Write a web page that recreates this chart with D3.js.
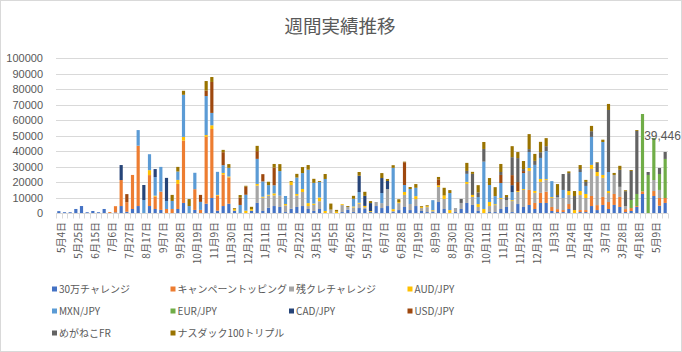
<!DOCTYPE html>
<html>
<head>
<meta charset="utf-8">
<script src="https://cdn.jsdelivr.net/npm/d3@7"></script>
<style>
  body { margin: 0; background: #fff; }
  svg text { fill: #595959; }
</style>
</head>
<body>
<div id="chart"></div>
<script>
// --- Données ---
const dates = [
  "5月4日","5月11日","5月18日","5月25日","6月1日","6月8日","6月15日","6月22日","6月29日","7月6日",
  "7月13日","7月20日","7月27日","8月3日","8月10日","8月17日","8月24日","8月31日","9月7日","9月14日",
  "9月21日","9月28日","10月5日","10月12日","10月19日","10月26日","11月2日","11月9日","11月16日","11月23日",
  "11月30日","12月7日","12月14日","12月21日","12月28日","1月4日","1月11日","1月18日","1月25日","2月1日",
  "2月8日","2月15日","2月22日","3月1日","3月8日","3月15日","3月22日","3月29日","4月5日","4月12日",
  "4月19日","4月26日","5月3日","5月10日","5月17日","5月24日","5月31日","6月7日","6月14日","6月21日",
  "6月28日","7月5日","7月12日","7月19日","7月26日","8月2日","8月9日","8月16日","8月23日","8月30日",
  "9月6日","9月13日","9月20日","9月27日","10月4日","10月11日","10月18日","10月25日","11月1日","11月8日",
  "11月15日","11月22日","11月29日","12月6日","12月13日","12月20日","12月27日","1月3日","1月10日","1月17日",
  "1月24日","1月31日","2月7日","2月14日","2月21日","2月28日","3月7日","3月14日","3月21日","3月28日",
  "4月4日","4月11日","4月18日","4月25日","5月2日","5月9日","5月16日","5月23日"
];

const seriesNames = ["30万チャレンジ","キャンペーントッピング","残クレチャレンジ","AUD/JPY","MXN/JPY",
  "EUR/JPY","CAD/JPY","USD/JPY","めがねこFR","ナスダック100トリプル"];
const seriesColors = ["#4472C4","#ED7D31","#A5A5A5","#FFC000","#5B9BD5",
  "#70AD47","#264478","#9E480E","#636363","#997300"];

const s30 = [1200,500,500,2600,4500,500,1300,500,2600,0,
  400,4500,800,2600,4500,0,4500,2600,2000,0,
  0,2600,6500,0,2000,0,6000,9700,1500,4500,
  6000,1500,0,0,1500,6500,1300,3400,4500,3900,
  600,2800,3900,4500,2600,1300,2600,0,0,0,
  600,2200,600,3200,2600,600,4500,3200,4500,600,
  1900,3900,1900,4500,1300,600,600,7100,2600,0,
  600,2600,6500,5200,1300,0,600,600,2600,3900,
  600,5800,3900,5200,2600,6500,6500,1300,600,600,
  2600,0,600,600,4500,1900,5200,2600,5200,3900,
  600,1300,3900,12300,0,11000,4700,6500];
const campaign = [0,0,0,0,0,0,0,0,0,600,
  4000,16800,6200,22000,39000,0,20000,8000,11800,2600,
  2600,16200,40300,0,13400,2000,43300,44600,9700,20300,
  17000,0,0,0,0,0,0,0,0,0,
  0,0,0,0,0,0,0,0,0,0,
  0,0,0,0,0,0,0,0,0,0,
  0,0,0,0,0,0,0,0,0,0,
  0,0,0,0,0,0,0,0,0,0,
  0,0,0,9700,3900,6500,7300,2600,1900,1300,
  3200,0,1300,1300,6500,3200,5200,4500,7100,6500,
  1900,1900,600,1700,0,3200,5000,3200];
const zancre = [0,0,0,0,0,0,0,0,0,0,
  0,0,0,0,0,0,0,0,0,0,
  0,0,0,0,0,0,0,0,0,0,
  0,0,0,0,0,11200,8600,7800,6900,7300,
  4300,15300,7300,9100,1900,3900,5000,0,2200,0,
  4500,1700,3000,2800,1100,0,2600,3200,11000,600,
  4500,7800,3900,4500,1900,3200,600,9700,6500,0,
  2600,3900,12300,5200,2600,0,3900,4500,6500,4500,
  7100,7800,11000,12300,6500,7100,7500,5800,7800,7800,
  5800,0,9700,7800,17500,18800,12300,5800,12300,6500,
  1900,0,0,0,0,7100,5200,0];
const audjpy = [0,0,0,0,0,0,0,0,0,0,
  0,0,0,0,0,0,3200,600,0,0,
  0,2600,2400,0,0,0,1100,2400,500,1100,
  600,1000,0,1500,1000,1100,600,600,1300,0,
  900,1900,1100,1900,1900,900,2400,1300,0,900,
  600,0,600,600,900,600,0,0,0,1300,
  600,1900,0,1900,600,600,600,1100,2200,1900,
  0,0,1300,1300,1900,2600,2600,600,600,0,
  600,600,600,1900,1300,1900,600,600,0,0,
  2600,1900,2600,2600,2600,2600,1900,1300,0,0,
  0,0,0,0,0,0,0,0];
const mxnjpy = [0,0,0,0,0,0,0,0,0,0,
  0,0,0,0,10100,8400,10300,12000,16000,5200,
  5200,5400,27200,4500,10600,5200,25200,8000,14900,5000,
  5600,0,5200,10300,0,16200,9900,6200,5200,15900,
  5200,0,10600,10300,21600,13400,10100,20700,0,0,
  0,0,5000,6900,0,0,0,6500,0,26700,
  0,4500,9700,5400,0,0,6500,0,0,11000,
  0,0,5200,0,4500,30600,11000,5200,9700,0,
  5200,0,10300,10300,16800,13600,18100,10300,0,5200,
  0,0,12300,5200,18100,0,21300,12300,0,0,
  0,0,0,0,0,0,0,0];
const eurjpy = [0,0,0,0,0,0,0,0,0,0,
  0,0,0,0,0,0,0,0,0,0,
  0,0,0,0,0,0,0,0,0,0,
  0,0,0,0,0,0,0,0,0,0,
  0,0,0,0,0,0,0,0,0,0,
  0,0,0,0,0,0,0,0,0,0,
  0,0,0,0,0,0,0,0,0,0,
  0,0,0,0,0,0,0,0,0,0,
  0,0,0,0,0,0,0,0,0,0,
  0,0,0,0,0,0,0,0,0,0,
  0,5200,7800,50000,24600,27200,10300,25246];
const cadjpy = [0,0,0,0,0,0,0,0,0,0,
  0,9700,0,0,0,9700,0,5200,0,14900,
  0,0,0,0,0,0,0,0,0,0,
  0,0,0,0,0,0,0,0,0,0,
  0,0,0,0,0,0,0,0,0,0,
  0,0,0,10600,6500,5200,0,9700,5200,0,
  0,0,0,0,0,0,0,0,0,0,
  0,0,0,0,0,0,0,0,0,0,
  4500,0,0,0,0,0,0,0,0,0,
  0,0,0,0,0,0,0,0,0,0,
  0,0,0,0,0,0,0,0];
const usdjpy = [0,0,0,0,0,0,0,0,0,0,
  0,0,5200,0,0,0,0,0,0,0,
  0,0,0,0,0,4500,3500,20000,0,8400,
  0,0,4700,5200,0,5000,4700,0,11400,0,
  0,0,0,0,0,0,0,0,0,0,
  0,0,0,0,0,0,0,0,0,0,
  0,14700,0,0,0,0,0,3900,0,0,
  0,0,0,0,0,0,0,0,5200,0,
  6500,5800,1300,0,0,0,0,0,0,0,
  0,0,0,0,0,0,0,0,0,0,
  0,0,0,0,0,0,0,0];
const meganeko = [0,0,0,0,0,0,0,0,0,0,
  0,0,0,0,0,0,0,0,0,0,
  0,0,0,0,0,0,0,0,0,0,
  0,0,0,0,0,0,0,0,0,0,
  0,0,0,0,0,0,0,0,0,0,
  0,0,0,0,0,0,0,0,0,0,
  0,0,0,0,0,0,0,0,0,0,
  0,2600,1900,13600,3000,8200,0,0,1900,1900,
  11600,15500,1300,1900,2600,3700,3200,0,1300,10300,
  11600,9100,1900,2600,3700,6000,0,40100,0,11000,
  9700,18800,40700,0,1900,0,3900,4500];
const nasdaq = [0,0,0,0,0,0,0,0,0,0,
  0,0,0,0,0,0,0,0,0,0,
  3900,3000,2600,4500,0,0,6200,3200,0,1500,
  2400,600,1700,600,1500,3400,0,2200,2400,4500,
  0,600,2400,3900,3000,2600,600,3200,3900,1100,
  0,600,1900,2400,2600,1300,0,3200,1300,1700,
  1900,400,1300,2400,600,600,0,1500,5000,1900,
  0,0,5200,1300,4700,4500,4500,5800,5200,1300,
  7100,3900,5200,9700,4500,6700,5200,0,7100,0,
  1100,3200,2600,1300,3400,400,1500,3900,1300,2600,
  600,600,600,0,0,0,0,0];

const yTicks = [0,10000,20000,30000,40000,50000,60000,70000,80000,90000,100000];

const allSeries = [s30, campaign, zancre, audjpy, mxnjpy, eurjpy, cadjpy, usdjpy, meganeko, nasdaq];

// table pour d3.stack
const rows = dates.map((d, i) => {
  const r = { date: d, idx: i };
  seriesNames.forEach((n, k) => { r[n] = allSeries[k][i]; });
  return r;
});

// --- SVG ---
const width = 682, height = 352;
const plot = { left: 56, right: 668, top: 58.3, bottom: 213 };

const svg = d3.select("#chart").append("svg")
  .attr("width", width)
  .attr("height", height)
  .style("font-family", "'Noto Sans CJK JP', 'Noto Sans', sans-serif");

svg.append("rect")
  .attr("x", 0.5).attr("y", 0.5)
  .attr("width", width - 1).attr("height", height - 1)
  .attr("fill", "#fff").attr("stroke", "#D9D9D9");

// Titre
svg.append("text")
  .attr("x", 340).attr("y", 33)
  .attr("text-anchor", "middle")
  .style("font-size", "18.5px")
  .text("週間実績推移");

// --- Scales ---
const xScale = d3.scaleBand()
  .domain(d3.range(dates.length))
  .range([plot.left, plot.right])
  .paddingInner(0.44)
  .paddingOuter(0.22);

const yScale = d3.scaleLinear()
  .domain([0, 100000])
  .range([plot.bottom, plot.top]);

// Grille
svg.append("g")
  .selectAll("line")
  .data(yTicks.slice(1))
  .join("line")
  .attr("x1", plot.left).attr("x2", plot.right)
  .attr("y1", d => Math.round(yScale(d)) + 0.5)
  .attr("y2", d => Math.round(yScale(d)) + 0.5)
  .attr("stroke", "#D9D9D9");

// Axe Y
svg.append("g")
  .attr("transform", `translate(${plot.left - 10},0)`)
  .call(d3.axisLeft(yScale).tickValues(yTicks).tickSize(0).tickFormat(d3.format("d")))
  .call(g => g.select(".domain").remove())
  .call(g => g.selectAll("text")
    .style("font-family", "'Liberation Sans', Arial, sans-serif")
    .style("font-size", "11px")
    .attr("fill", "#595959"));

// --- Barres empilées ---
const stack = d3.stack().keys(seriesNames);
const layers = stack(rows);

svg.append("g")
  .selectAll("g")
  .data(layers)
  .join("g")
  .attr("fill", (d, k) => seriesColors[k])
  .selectAll("rect")
  .data(d => d)
  .join("rect")
  .attr("x", d => xScale(d.data.idx))
  .attr("width", xScale.bandwidth())
  .attr("y", d => yScale(d[1]))
  .attr("height", d => yScale(d[0]) - yScale(d[1]));

// Axe X
const step = xScale.step();
const axisY = Math.round(plot.bottom) + 0.5;
svg.append("line")
  .attr("x1", plot.left).attr("x2", plot.right)
  .attr("y1", axisY).attr("y2", axisY)
  .attr("stroke", "#D9D9D9");

svg.append("g")
  .selectAll("line")
  .data(d3.range(dates.length + 1))
  .join("line")
  .attr("x1", k => Math.round(plot.left + k * step) + 0.5)
  .attr("x2", k => Math.round(plot.left + k * step) + 0.5)
  .attr("y1", axisY).attr("y2", axisY + 5)
  .attr("stroke", "#D9D9D9");

const labelIdx = d3.range(0, dates.length, 3);
svg.append("g")
  .selectAll("text")
  .data(labelIdx)
  .join("text")
  .attr("transform", i => `translate(${xScale(i) + xScale.bandwidth() / 2 + 2.5},${plot.bottom + 9}) rotate(-90)`)
  .attr("text-anchor", "end")
  .attr("dy", "0.35em")
  .style("font-size", "10px")
  .text(i => dates[i]);

// Étiquette du dernier total
const last = rows.length - 1;
const lastTotal = d3.sum(allSeries, s => s[last]);
svg.append("text")
  .attr("x", xScale(last) + xScale.bandwidth() / 2 - 21)
  .attr("y", yScale(lastTotal) - 12)
  .style("font-family", "'Liberation Sans', Arial, sans-serif")
  .style("font-size", "12px")
  .text(d3.format(",")(lastTotal));

// --- Légende ---
const legend = svg.append("g");
const legItems = legend.selectAll("g")
  .data(seriesNames)
  .join("g")
  .attr("transform", (d, k) => `translate(${52 + (k % 4) * 118.5},${289 + Math.floor(k / 4) * 22})`);

legItems.append("rect")
  .attr("x", 0).attr("y", -2.5)
  .attr("width", 5).attr("height", 5)
  .attr("fill", (d, k) => seriesColors[k]);

legItems.append("text")
  .attr("x", 7).attr("dy", "0.35em")
  .style("font-size", "10px")
  .text(d => d);
</script>
</body>
</html>
